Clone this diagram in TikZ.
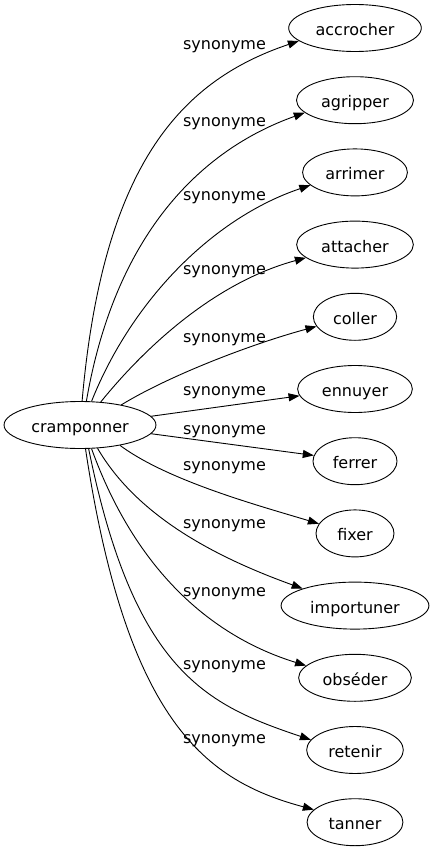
\documentclass[tikz,border=0pt]{standalone}
\usepackage{fontspec}
\setmainfont{DejaVu Sans}
\usetikzlibrary{arrows.meta,shapes.geometric}
\begin{document}
\begin{tikzpicture}[x=1pt,y=-1pt,
  word/.style={ellipse, draw=black, line width=0.9pt, inner xsep=7.5pt, inner ysep=2pt, text height=15pt, text depth=0pt, minimum width=78pt, minimum height=47pt, font=\fontsize{16}{19}\selectfont},
  lbl/.style={text height=9pt, text depth=0pt, font=\fontsize{16}{19}\selectfont},
  syn/.style={draw=black, line width=0.9pt, -{Triangle[length=11pt,width=8pt]}}]
\useasboundingbox (0,0) rectangle (432,851);
\node [word, inner xsep=5pt] (c) at (80,425) {cramponner};
\node [word] (t1) at (355,28) {accrocher};
\node [word] (t2) at (355,100.2) {agripper};
\node [word] (t3) at (355,172.4) {arrimer};
\node [word] (t4) at (355,244.6) {attacher};
\node [word] (t5) at (355,316.8) {coller};
\node [word] (t6) at (355,389) {ennuyer};
\node [word] (t7) at (355,461.2) {ferrer};
\node [word] (t8) at (355,533.4) {fixer};
\node [word] (t9) at (355,605.6) {importuner};
\node [word] (t10) at (355,677.8) {obséder};
\node [word] (t11) at (355,750) {retenir};
\node [word] (t12) at (355,822.2) {tanner};
% edges
\draw [syn] (c.85) .. controls (103,162) and (183,80) .. (t1.193);
\draw [syn] (c.75) .. controls (115,235) and (200,150) .. (t2.194);
\draw [syn] (c.64) .. controls (132,300) and (213,218) .. (t3.196);
\draw [syn] (c.48) .. controls (151,340) and (220,281) .. (t4.195);
\draw [syn] (c.26) .. controls (172,374) and (255,343) .. (t5.194);
\draw [syn] (c.7) -- (t6.187);
\draw [syn] (c.-7) -- (t7.172);
\draw [syn] (c.-27) .. controls (168,481) and (260,506) .. (t8.165);
\draw [syn] (c.-53) .. controls (137,516) and (215,557) .. (t9.162);
\draw [syn] (c.-64) .. controls (135,569) and (210,636) .. (t10.166);
\draw [syn] (c.-70) .. controls (134,672) and (207,705) .. (t11.167);
\draw [syn] (c.-77) .. controls (127,724) and (207,781) .. (t12.163);
% labels
\node [lbl] (l1) at (224.5,45) {synonyme};
\node [lbl] (l2) at (224.5,122) {synonyme};
\node [lbl] (l3) at (224.5,196) {synonyme};
\node [lbl] (l4) at (224.5,270) {synonyme};
\node [lbl] (l5) at (224.5,338) {synonyme};
\node [lbl] (l6) at (224.5,391) {synonyme};
\node [lbl] (l7) at (224.5,430) {synonyme};
\node [lbl] (l8) at (224.5,466) {synonyme};
\node [lbl] (l9) at (224.5,524) {synonyme};
\node [lbl] (l10) at (224.5,592) {synonyme};
\node [lbl] (l11) at (224.5,665) {synonyme};
\node [lbl] (l12) at (224.5,739) {synonyme};
\end{tikzpicture}
\end{document}
